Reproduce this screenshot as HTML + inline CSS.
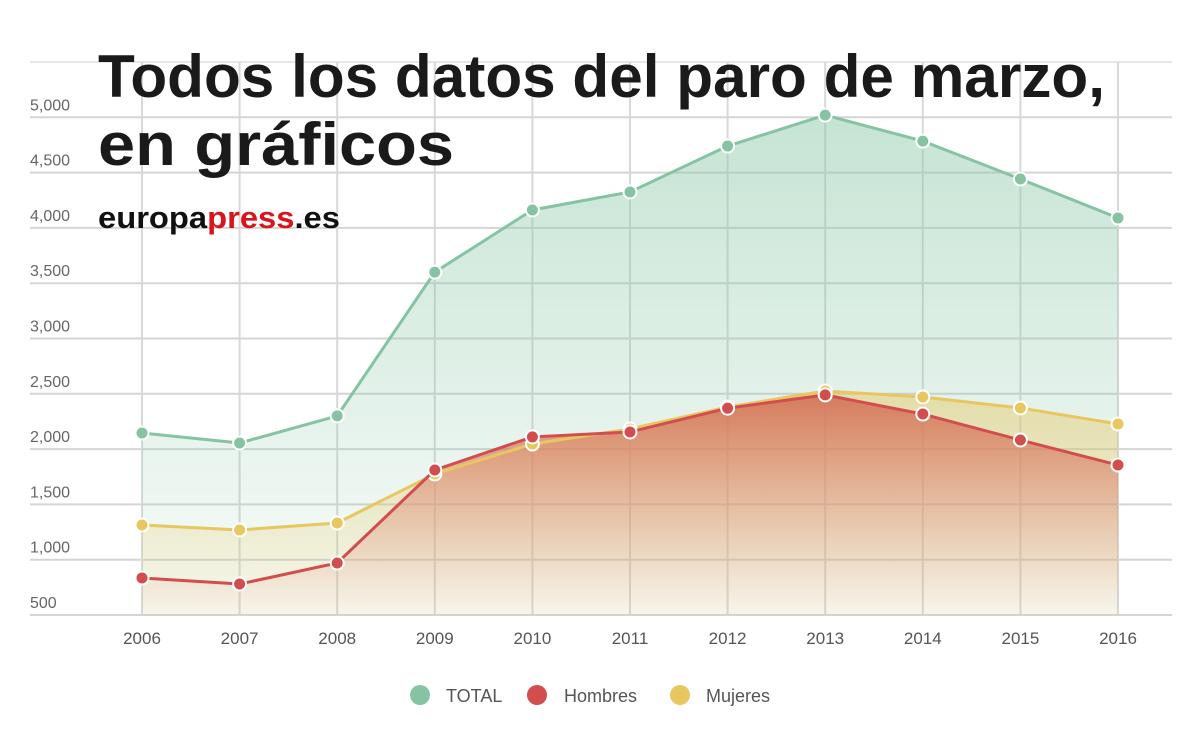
<!DOCTYPE html>
<html><head><meta charset="utf-8"><style>
body{margin:0;background:#fff;width:1200px;height:745px;overflow:hidden;font-family:"Liberation Sans",Arial,sans-serif}
</style></head><body>
<svg id="chart" width="1200" height="745" xmlns="http://www.w3.org/2000/svg">
<defs>
<linearGradient id="gT" x1="0" y1="0" x2="0" y2="1"><stop offset="0" stop-color="#8cc9a8" stop-opacity="0.5"/><stop offset="1" stop-color="#8cc9a8" stop-opacity="0.05"/></linearGradient>
<linearGradient id="gM" x1="0" y1="0" x2="0" y2="1"><stop offset="0" stop-color="#e6c96a" stop-opacity="0.5"/><stop offset="1" stop-color="#e6c96a" stop-opacity="0.08"/></linearGradient>
<linearGradient id="gH" x1="0" y1="0" x2="0" y2="1"><stop offset="0" stop-color="#d3694f" stop-opacity="0.85"/><stop offset="1" stop-color="#e8a08a" stop-opacity="0.03"/></linearGradient>
</defs>
<g id="grid"></g>
<g id="areas"></g>
<g id="lines"></g>
<g id="labels"></g>
<text x="98" y="97" font-size="60" font-weight="bold" fill="#1a1a1a" textLength="1007" lengthAdjust="spacingAndGlyphs">Todos los datos del paro de marzo,</text>
<text x="98" y="165" font-size="60" font-weight="bold" fill="#1a1a1a" textLength="356" lengthAdjust="spacingAndGlyphs">en gráficos</text>
<text x="98" y="228" font-size="31" font-weight="bold" fill="#111" textLength="242" lengthAdjust="spacingAndGlyphs">europa<tspan fill="#d8141c">press</tspan>.es</text>
<g>
<circle cx="420" cy="695" r="10" fill="#86c3a3"/>
<text x="446" y="702" font-size="18" fill="#555">TOTAL</text>
<circle cx="537" cy="695" r="10" fill="#d24d4d"/>
<text x="564" y="702" font-size="18" fill="#555">Hombres</text>
<circle cx="680" cy="695" r="10" fill="#e8c660"/>
<text x="706" y="702" font-size="18" fill="#555">Mujeres</text>
</g>
</svg>
<script>
const years=["2006","2007","2008","2009","2010","2011","2012","2013","2014","2015","2016"];
const total=[2146,2055,2300,3600,4162,4325,4740,5020,4785,4442,4090];
const hombres=[835,780,970,1811,2110,2155,2370,2490,2317,2082,1856];
const mujeres=[1314,1269,1332,1775,2046,2182,2380,2525,2471,2372,2227];
const yTicks=[500,1000,1500,2000,2500,3000,3500,4000,4500,5000];
const NS="http://www.w3.org/2000/svg";
const xPos=i=>142+i*97.6;
const yPos=v=>615-(v-500)*0.1106;
function mk(tag,attrs,parent){const e=document.createElementNS(NS,tag);for(const k in attrs)e.setAttribute(k,attrs[k]);parent.appendChild(e);return e;}
const gridG=document.getElementById('grid'),areasG=document.getElementById('areas'),linesG=document.getElementById('lines'),labelsG=document.getElementById('labels');
yTicks.forEach(t=>{
 const l=mk('line',{x1:30,x2:1172,y1:yPos(t),y2:yPos(t),stroke:'#d5d5d5','stroke-width':2},gridG);
 
 
 const tx=mk('text',{x:30,y:yPos(t)-7,'font-size':16,fill:'#666'},labelsG);
 
 
 tx.textContent=t.toLocaleString('en-US');
});
const topLine=mk('line',{x1:30,x2:1172,y1:yPos(5500),y2:yPos(5500),stroke:'#e6e6e6','stroke-width':2},gridG);


years.forEach((yr,i)=>{
 const l=mk('line',{x1:xPos(i),x2:xPos(i),y1:yPos(5500),y2:615,stroke:'#d8d8d8','stroke-width':2},gridG);
 
 
 const tx=mk('text',{x:xPos(i),y:644,'font-size':17,fill:'#555','text-anchor':'middle'},labelsG);
 
 
 tx.textContent=yr;
});
function series(vals,fill,stroke,name){
 const pts=vals.map((v,i)=>xPos(i)+','+yPos(v));
 const a=mk('polygon',{points:xPos(0)+',615 '+pts.join(' ')+' '+xPos(vals.length-1)+',615',fill:fill},areasG);
 
 
 const p=mk('polyline',{points:pts.join(' '),fill:'none',stroke:stroke,'stroke-width':3},linesG);
 
 
 vals.forEach((v,i)=>{
  const c=mk('circle',{cx:xPos(i),cy:yPos(v),r:6.5,fill:stroke,stroke:'#fff','stroke-width':2},linesG);
  
  
 });
}
series(total,'url(#gT)','#86c3a3','total');
series(mujeres,'url(#gM)','#e8c660','mujeres');
series(hombres,'url(#gH)','#d24d4d','hombres');
</script>
</body></html>
